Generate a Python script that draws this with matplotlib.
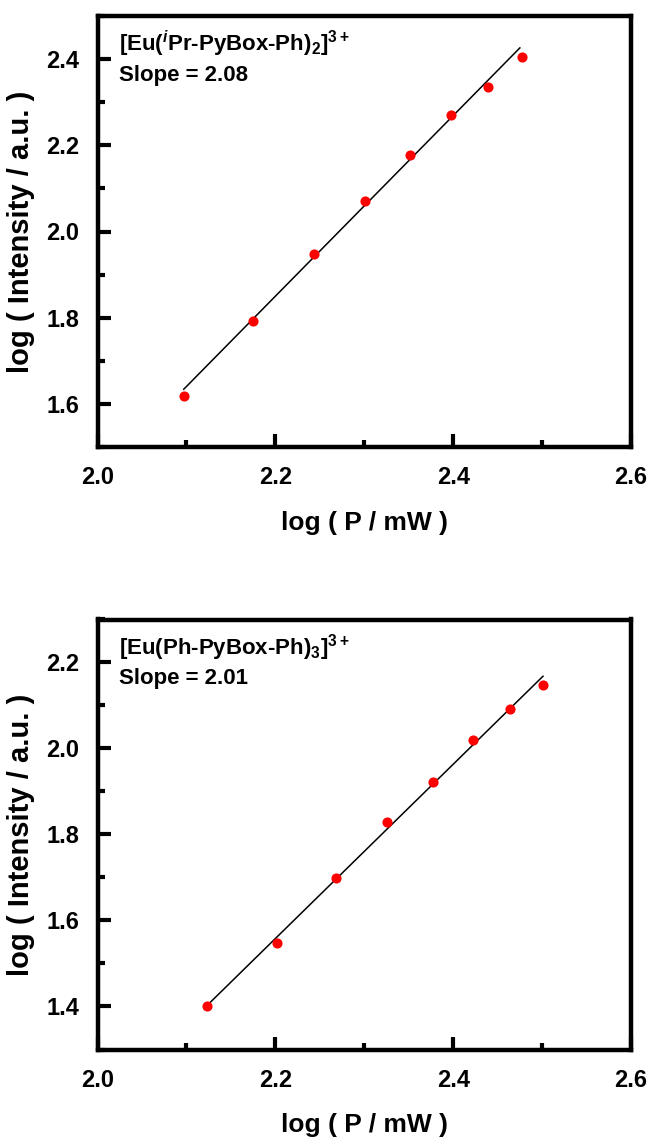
import matplotlib
matplotlib.use("Agg")
import matplotlib.pyplot as plt
from matplotlib.ticker import MultipleLocator, FormatStrFormatter

plt.rcParams['font.family'] = ['Liberation Sans', 'DejaVu Sans']
plt.rcParams['font.weight'] = 'bold'
plt.rcParams['mathtext.fontset'] = 'custom'
plt.rcParams['mathtext.rm'] = 'Liberation Sans:bold'
plt.rcParams['mathtext.it'] = 'Liberation Sans:italic:bold'
plt.rcParams['mathtext.bf'] = 'Liberation Sans:bold'
plt.rcParams['mathtext.default'] = 'regular'

# ---- data ----
top_logP = [2.097, 2.175, 2.243, 2.301, 2.352, 2.398, 2.439, 2.477]
top_logI = [1.618, 1.792, 1.948, 2.070, 2.177, 2.270, 2.336, 2.404]
top_fit_x = [2.097, 2.475]
top_fit_y = [1.634, 2.426]
top_label = r'[Eu($^{\mathit{i}}$Pr-PyBox-Ph)$_{2}$]$^{3+}$'
top_slope = 'Slope = 2.08'
top_ylim = (1.5, 2.5)

bot_logP = [2.123, 2.202, 2.268, 2.326, 2.377, 2.422, 2.464, 2.501]
bot_logI = [1.401, 1.547, 1.699, 1.828, 1.922, 2.020, 2.091, 2.147]
bot_fit_x = [2.126, 2.501]
bot_fit_y = [1.408, 2.168]
bot_label = r'[Eu(Ph-PyBox-Ph)$_{3}$]$^{3+}$'
bot_slope = 'Slope = 2.01'
bot_ylim = (1.3, 2.3)

xlim = (2.0, 2.6)
xlabel = 'log ( P / mW )'
ylabel = 'log ( Intensity / a.u. )'

W, H = 651, 1137
fig = plt.figure(figsize=(W / 100, H / 100), dpi=100)

left = 97.5 / W
width = (631 - 97.5) / W
ax_top = fig.add_axes([left, 1 - 447 / H, width, 431 / H])
ax_bot = fig.add_axes([left, 1 - 1049.5 / H, width, 430 / H])

panels = [
    (ax_top, top_logP, top_logI, top_fit_x, top_fit_y, top_label, top_slope, top_ylim),
    (ax_bot, bot_logP, bot_logI, bot_fit_x, bot_fit_y, bot_label, bot_slope, bot_ylim),
]

for ax, xs, ys, fx, fy, lab, slope, ylim in panels:
    ax.plot(fx, fy, color='black', lw=1.1, zorder=2)
    ax.plot(xs, ys, 'o', color='#ff0000', ms=7.3, mec='none', zorder=3)
    ax.set_xlim(*xlim)
    ax.set_ylim(*ylim)
    ax.xaxis.set_major_locator(MultipleLocator(0.2))
    ax.xaxis.set_minor_locator(MultipleLocator(0.1))
    ax.yaxis.set_major_locator(MultipleLocator(0.2))
    ax.yaxis.set_minor_locator(MultipleLocator(0.1))
    ax.xaxis.set_major_formatter(FormatStrFormatter('%.1f'))
    ax.yaxis.set_major_formatter(FormatStrFormatter('%.1f'))
    for s in ax.spines.values():
        s.set_linewidth(3.2)
    ax.tick_params(which='both', direction='in', top=False, right=False, width=3)
    ax.tick_params(which='major', length=9.5, labelsize=17)
    ax.tick_params(which='minor', length=5)
    ax.tick_params(axis='x', which='major', pad=14)
    ax.tick_params(axis='y', which='major', pad=13)
    for t in ax.get_xticklabels() + ax.get_yticklabels():
        t.set_fontweight('bold')
    ax.set_xlabel(xlabel, fontsize=19, fontweight='bold')
    ax.set_ylabel(ylabel, fontsize=21, fontweight='bold')
    ax.xaxis.set_label_coords(0.5, -76 / 431)
    ax.xaxis.label.set_va('center')
    ax.yaxis.set_label_coords(-76 / 533.5, 0.5)
    ax.yaxis.label.set_va('center')
    ax.text(0.04, 0.935, lab, transform=ax.transAxes, fontsize=16,
            fontweight='bold', ha='left', va='center')
    ax.text(0.04, 0.862, slope, transform=ax.transAxes, fontsize=16,
            fontweight='bold', ha='left', va='center')

fig.savefig('out.png', dpi=100)
